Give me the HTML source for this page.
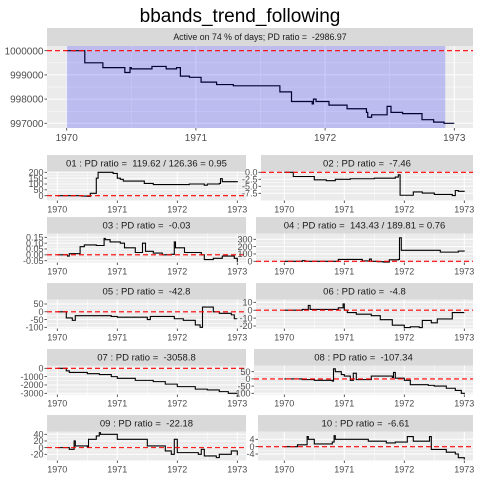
<!DOCTYPE html>
<html><head><meta charset="utf-8"><style>
html,body{margin:0;padding:0;background:#fff;}
svg{display:block;font-family:"Liberation Sans",Arial,sans-serif;}
text{white-space:pre;}
</style></head><body>
<svg id="chart" width="480" height="480" viewBox="0 0 480 480">
<text x="240" y="22" text-anchor="middle" font-size="19" fill="#000">bbands_trend_following</text>
</svg>
<script>
// ---- data ----
const topDates = [1970,1970.14,1970.28,1970.45,1970.49,1970.5,1970.66,1970.77,1970.85,1970.88,1970.95,1971.04,1971.16,1971.29,1971.65,1971.74,1971.9,1971.91,1971.93,1972.03,1972.17,1972.32,1972.33,1972.36,1972.48,1972.51,1972.6,1972.72,1972.75,1972.84,1972.92,1973];
const topValues = [1000000,999500,999300,999100,999300,999250,999350,999250,999300,998950,998900,998700,998600,998550,998300,997900,997800,998000,997900,997750,997600,997450,997250,997350,997700,997450,997400,997400,997150,997050,997000,997000];
const yearTicks = [1970,1971,1972,1973];
const topYTicks = [997000,998000,999000,1000000];
const p01Dates=[1970,1970.4,1970.5,1970.55,1970.65,1970.68,1970.93,1971,1971.05,1971.1,1971.45,1971.6,1972,1972.2,1972.45,1972.5,1972.7,1972.72,1972.75,1973];
const p01Values=[0,-3,-5,20,150,200,190,150,140,125,105,95,95,100,90,100,105,145,120,115];
const p02Dates=[1970,1970.15,1970.5,1970.7,1970.85,1971.1,1971.5,1971.85,1971.9,1971.93,1972.15,1972.3,1972.5,1972.8,1972.85,1972.9,1973];
const p02Values=[0,-1.5,-2.7,-3,-2.5,-2.3,-2.1,-1.7,-0.9,-8.2,-7,-7.4,-7.9,-8.3,-6.5,-6.8,-6.9];
const p03Dates=[1970,1970.17,1970.2,1970.38,1970.45,1970.65,1970.78,1970.8,1970.88,1971.05,1971.12,1971.3,1971.42,1971.47,1971.6,1971.75,1971.9,1971.95,1971.97,1972.12,1972.4,1972.45,1972.6,1972.75,1972.85,1972.95,1973];
const p03Values=[0,-0.01,0.01,0.07,0.085,0.08,0.14,0.13,0.11,0.1,0.06,0.02,0.1,0.03,0.015,0,0.005,0.11,0.06,0.02,0,-0.04,-0.03,-0.01,-0.01,-0.03,-0.06];
const p04Dates=[1970,1970.3,1970.35,1970.9,1971.3,1971.42,1971.45,1971.55,1971.65,1971.75,1971.9,1971.92,1971.95,1972.3,1972.6,1972.85,1972.9,1973];
const p04Values=[0,8,0,25,5,30,0,-5,-10,20,25,320,150,150,125,125,140,135];
const p05Dates=[1970,1970.15,1970.25,1970.3,1970.9,1971,1971.5,1971.55,1971.95,1972.1,1972.3,1972.38,1972.42,1972.55,1972.6,1972.7,1972.9,1972.95,1973];
const p05Values=[0,-40,-55,-25,-30,-35,-50,-30,-45,-55,-85,-100,30,30,0,-10,-20,-45,-45];
const p06Dates=[1970,1970.3,1970.4,1970.43,1970.9,1970.98,1971,1971.05,1971.2,1971.45,1971.6,1971.8,1972,1972.1,1972.25,1972.3,1972.45,1972.55,1972.8,1973];
const p06Values=[0,1,6,1,3,8,0,-3,-5,-7,-12,-19,-22,-21,-22,-13,-16,-11,-3,-3];
const p07Dates=[1970,1970.15,1970.2,1970.5,1970.7,1970.9,1971,1971.3,1971.6,1971.8,1972,1972.3,1972.5,1972.7,1972.85,1973];
const p07Values=[0,-300,-500,-650,-750,-1000,-1200,-1450,-1600,-1900,-2200,-2500,-2600,-2800,-3000,-3000];
const p08Dates=[1970,1970.3,1970.5,1970.8,1970.82,1970.85,1970.95,1971,1971.1,1971.15,1971.2,1971.45,1971.8,1971.82,1971.85,1972,1972.1,1972.4,1972.5,1972.7,1972.85,1972.95,1973];
const p08Values=[0,-5,-10,-15,70,50,30,20,-10,40,-5,20,10,45,5,-10,-40,-45,-50,-65,-80,-100,-105];
const p09Dates=[1970,1970.2,1970.28,1970.3,1970.5,1970.52,1970.65,1970.7,1970.72,1971,1971.4,1971.5,1971.8,1971.9,1971.95,1972,1972.35,1972.4,1972.45,1972.65,1972.7,1972.85,1972.9,1973];
const p09Values=[0,-5,20,5,2,25,35,45,40,25,25,5,-10,-20,25,-15,-20,-5,-25,-30,-20,-20,-10,-23];
const p10Dates=[1970,1970.22,1970.38,1970.4,1970.5,1970.8,1970.83,1970.85,1971.4,1971.7,1971.85,1972.05,1972.15,1972.4,1972.42,1972.45,1972.7,1972.85,1972.9,1973];
const p10Values=[0,1,5.5,4,1.5,2.5,6,4,3,2,2.5,5.5,3,3,5.5,-1.5,-3,-4,-6,-7];
const p01Ticks=[0,50,100,150,200], p02Ticks=[-7.5,-5,-2.5,0], p03Ticks=[-0.05,0,0.05,0.1,0.15], p04Ticks=[0,100,200,300];
const p05Ticks=[-100,-50,0,50], p06Ticks=[-20,-10,0,10], p07Ticks=[-3000,-2000,-1000,0], p08Ticks=[-100,-50,0,50];
const p09Ticks=[-20,0,20,40], p10Ticks=[-4,0,4];
const p02Labels=["-7.5","-5.0","-2.5","0.0"], p03Labels=["-0.05","0.00","0.05","0.10","0.15"];

const NS="http://www.w3.org/2000/svg";
const svg=document.getElementById('chart');
function mk(tag,attrs,parent){const e=document.createElementNS(NS,tag);for(const k in attrs)e.setAttribute(k,attrs[k]);(parent||svg).appendChild(e);return e;}

function panel(o){
  const g=mk('g',{});
  
  
  const fs=o.fs;
  const strip=mk('rect',{x:o.px0,y:o.sy,width:o.px1-o.px0,height:o.py0-o.sy,fill:'#d9d9d9'},g);
  
  
  const st=mk('text',{x:(o.px0+o.px1)/2,y:(o.sy+o.py0)/2+fs*0.35,'text-anchor':'middle','font-size':fs,fill:'#1a1a1a'},g);
  st.textContent=o.title;
  
  
  mk('rect',{x:o.px0,y:o.py0,width:o.px1-o.px0,height:o.py1-o.py0,fill:'#ebebeb'},g);
  const xs=v=>o.x1970+(v-1970)*o.xPerYear;
  const ys=v=>o.yA+(v-o.vA)*(o.yB-o.yA)/(o.vB-o.vA);
  const T=o.ticks;
  for(let i=0;i<T.length-1;i++){const m=(T[i]+T[i+1])/2;mk('line',{x1:o.px0,x2:o.px1,y1:ys(m),y2:ys(m),stroke:'#fff','stroke-width':0.5},g);}
  for(let i=0;i<yearTicks.length-1;i++){const m=yearTicks[i]+0.5;mk('line',{x1:xs(m),x2:xs(m),y1:o.py0,y2:o.py1,stroke:'#fff','stroke-width':0.5},g);}
  T.forEach(t=>mk('line',{x1:o.px0,x2:o.px1,y1:ys(t),y2:ys(t),stroke:'#fff','stroke-width':1},g));
  yearTicks.forEach(t=>mk('line',{x1:xs(t),x2:xs(t),y1:o.py0,y2:o.py1,stroke:'#fff','stroke-width':1},g));
  if(o.active){const r=mk('rect',{x:xs(1970),y:o.py0,width:xs(o.active)-xs(1970),height:o.py1-o.py0,fill:'rgba(0,0,255,0.2)'},g);
    
    }
  let d='M'+xs(o.dates[0])+','+ys(o.values[0]);
  for(let i=1;i<o.dates.length;i++){d+='H'+xs(o.dates[i])+'V'+ys(o.values[i]);}
  const p=mk('path',{d:d,fill:'none',stroke:o.active?'#000033':'#000','stroke-width':o.active?1.2:1.1},g);
  
  
  const ref=mk('line',{x1:o.px0,x2:o.px1,y1:ys(o.ref),y2:ys(o.ref),stroke:'#ff0000','stroke-width':1.1,'stroke-dasharray':'5,3'},g);
  
  
  T.forEach((t,i)=>{mk('line',{x1:o.px0-2.5,x2:o.px0,y1:ys(t),y2:ys(t),stroke:'#333','stroke-width':0.8},g);
    const tx=mk('text',{x:o.px0-3.5,y:ys(t)+o.tfs*0.36,'text-anchor':'end','font-size':o.tfs,fill:'#4d4d4d'},g);
    tx.textContent=o.labels?o.labels[i]:String(t);
    
    });
  yearTicks.forEach(t=>{mk('line',{x1:xs(t),x2:xs(t),y1:o.py1,y2:o.py1+2.5,stroke:'#333','stroke-width':0.8},g);
    const tx=mk('text',{x:xs(t),y:o.py1+3+o.tfs,'text-anchor':'middle','font-size':o.tfs,fill:'#4d4d4d'},g);
    tx.textContent=String(t);
    
    });
}

panel({name:'portfolio-panel',title:'Active on 74 % of days; PD ratio =  -2986.97',px0:47,px1:473,sy:28,py0:46,py1:128,
  x1970:66.7,xPerYear:129.2,vA:1000000,yA:50.7,vB:997000,yB:123.3,ticks:topYTicks,dates:topDates,values:topValues,ref:1000000,active:1972.93,fs:8.8,tfs:10});

const L={x1970:57.3,xPerYear:60,px1:246}, R={x1970:284.3,xPerYear:60,px1:473};
const rows=[155,217,283,349,415];
const specs=[
 [L,47,0,'01 : PD ratio =  119.62 / 126.36 = 0.95',p01Dates,p01Values,p01Ticks,null,200,172.3,0,195.7],
 [R,261,0,'02 : PD ratio =  -7.46',p02Dates,p02Values,p02Ticks,p02Labels,0,172.3,-7.5,193.3],
 [L,47,1,'03 : PD ratio =  -0.03',p03Dates,p03Values,p03Ticks,p03Labels,0.15,237.3,-0.05,260.7],
 [R,256,1,'04 : PD ratio =  143.43 / 189.81 = 0.76',p04Dates,p04Values,p04Ticks,null,300,239.3,0,261.3],
 [L,47,2,'05 : PD ratio =  -42.8',p05Dates,p05Values,p05Ticks,null,50,304,-100,327.3],
 [R,256,2,'06 : PD ratio =  -4.8',p06Dates,p06Values,p06Ticks,null,10,302.3,-20,326],
 [L,47,3,'07 : PD ratio =  -3058.8',p07Dates,p07Values,p07Ticks,null,0,368.3,-3000,393.3],
 [R,254,3,'08 : PD ratio =  -107.34',p08Dates,p08Values,p08Ticks,null,50,371.7,-100,393.3],
 [L,47,4,'09 : PD ratio =  -22.18',p09Dates,p09Values,p09Ticks,null,40,434.3,-20,454.3],
 [R,258,4,'10 : PD ratio =  -6.61',p10Dates,p10Values,p10Ticks,null,4,439.3,-4,454]
];
specs.forEach((s,i)=>{const c=s[0],sy=rows[s[2]];
  panel({name:'panel-'+String(i+1).padStart(2,'0'),title:s[3],px0:s[1],px1:c.px1,sy:sy,py0:sy+16.5,py1:sy+45.5,
   x1970:c.x1970,xPerYear:c.xPerYear,vA:s[8],yA:s[9],vB:s[10],yB:s[11],ticks:s[6],labels:s[7],dates:s[4],values:s[5],ref:0,fs:9.5,tfs:9});
});
</script>
</body></html>
